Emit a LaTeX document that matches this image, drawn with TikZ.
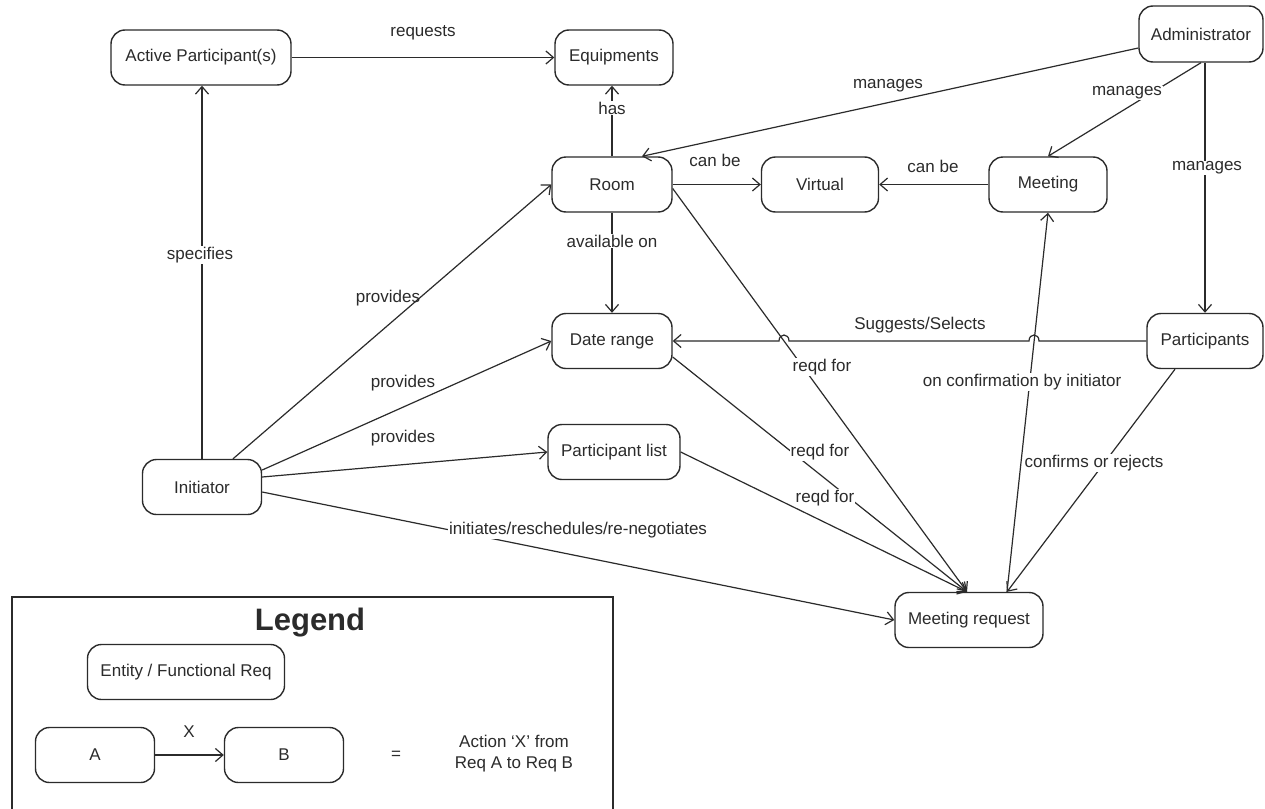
\documentclass[tikz,border=0pt]{standalone}
\usepackage{fontspec}
\setmainfont{Liberation Sans}
\usetikzlibrary{arrows.meta}
\definecolor{ink}{HTML}{2B2B2B}
\begin{document}
\begin{tikzpicture}[x=1pt,y=-1pt,
  box/.style={draw=ink, line width=1.4pt, rounded corners=14pt, minimum height=55pt, inner sep=0pt, font=\fontsize{17}{20}\selectfont, text=ink},
  lbl/.style={font=\fontsize{17}{20}\selectfont, text=ink, inner sep=1pt},
  lblw/.style={lbl, fill=white},
  arr/.style={draw=ink, line width=1.2pt, -{Straight Barb[length=7.5pt,width=13pt]}},
]
\fill[white] (0,0) rectangle (1265,808);
\useasboundingbox (0,0) rectangle (1265,808);

% nodes
\node[box, minimum width=180pt] (ap) at (201,57.5) {Active Participant(s)};
\node[box, minimum width=118pt] (eq) at (614,57.5) {Equipments};
\node[box, minimum width=124pt, minimum height=56pt] (ad) at (1201,34) {Administrator};
\node[box, minimum width=120pt] (room) at (612,184.5) {Room};
\node[box, minimum width=117pt] (virt) at (820,184.5) {Virtual};
\node[box, minimum width=118pt] (meet) at (1048,184.5) {Meeting};
\node[box, minimum width=120pt] (date) at (612,341) {Date range};
\node[box, minimum width=116pt] (parts) at (1205,341) {Participants};
\node[box, minimum width=132pt] (plist) at (614,452) {Participant list};
\node[box, minimum width=119pt] (init) at (202,487) {Initiator};
\node[box, minimum width=148pt] (mreq) at (969,620) {Meeting request};

% jump coordinates
\coordinate (j1) at (784,341);
\coordinate (j2) at (1034,341);

% edges
\draw[arr] (ap) -- (eq);
\node[lbl] at (423,33) {requests};

\draw[arr] (room.north) -- (room.north |- eq.south);
\node[lblw] at (612,108) {has};

\draw[arr] ([yshift=-14pt]ad.west) -- ([xshift=30pt]room.north);
\node[lbl] at (888,86) {manages};

\draw[arr] (ad.south) -- (meet.north);
\node[lblw] at (1127,93) {manages};

\draw[arr] (parts.north |- ad.south) -- (parts.north);
\node[lblw] at (1207,168) {manages};

\draw[arr] (room) -- (virt);
\node[lbl] at (715,160) {can be};

\draw[arr] (meet) -- (virt);
\node[lbl] at (933,166) {can be};

\draw[arr] (room) -- (date);
\node[lblw] at (612,241) {available on};

\draw[arr] (init.north) -- (init.north |- ap.south);
\node[lblw] at (200,255) {specifies};

\draw[arr] ([xshift=31pt]init.north) -- (room.west);
\node[lbl] at (388,298) {provides};

\draw[arr] ([yshift=17pt]init.east) -- (date.west);
\node[lbl] at (403,383) {provides};

\draw[arr] ([yshift=10pt]init.east) -- (plist.west);
\node[lbl] at (403,438) {provides};

\draw[arr] ([yshift=-5pt]init.east) -- (mreq.west);
\node[lblw] at (578,530) {initiates/reschedules/re-negotiates};

\draw[arr] (parts.west) -- ([xshift=5pt]j2) .. controls +(0pt,8pt) and +(0pt,8pt) .. ([xshift=-5pt]j2) -- ([xshift=5pt]j1) .. controls +(0pt,8pt) and +(0pt,8pt) .. ([xshift=-5pt]j1) -- (date.east);
\node[lbl] at (920,325) {Suggests/Selects};

\draw[arr] ([yshift=-4pt]room.east) -- ([xshift=-2pt]mreq.north);
\node[lblw] at (822,367) {reqd for};

\draw[arr] ([yshift=-16pt]date.east) -- ([xshift=-2pt]mreq.north);
\node[lblw] at (820,452) {reqd for};

\draw[arr] (plist.east) -- ([xshift=-2pt]mreq.north);
\node[lblw] at (825,498) {reqd for};

\draw[arr] ([xshift=38pt]mreq.north) -- (meet.south);
\node[lblw] at (1022,382) {on confirmation by initiator};

\draw[arr] ([xshift=-30pt]parts.south) -- ([xshift=38pt]mreq.north);
\node[lblw] at (1094,463) {confirms or rejects};

% legend
\draw[draw=ink, line width=1.4pt] (12,815) -- (12,597) -- (613,597) -- (613,815);
\node[text=ink, font=\bfseries\fontsize{31}{35}\selectfont] (legtitle) at (310,623) {Legend};
\node[box, minimum width=197pt] (entity) at (186,672) {Entity / Functional Req};
\node[box, minimum width=119pt] (la) at (95,755) {A};
\node[box, minimum width=119pt] (lb) at (284,755) {B};
\draw[arr] (la) -- (lb);
\node[lbl] at (189,732) {X};
\node[lbl] (eqsign) at (396,755) {=};
\node[lbl, align=center] (action) at (514,754) {Action `X' from\\[1pt]Req A to Req B};
\end{tikzpicture}
\end{document}
